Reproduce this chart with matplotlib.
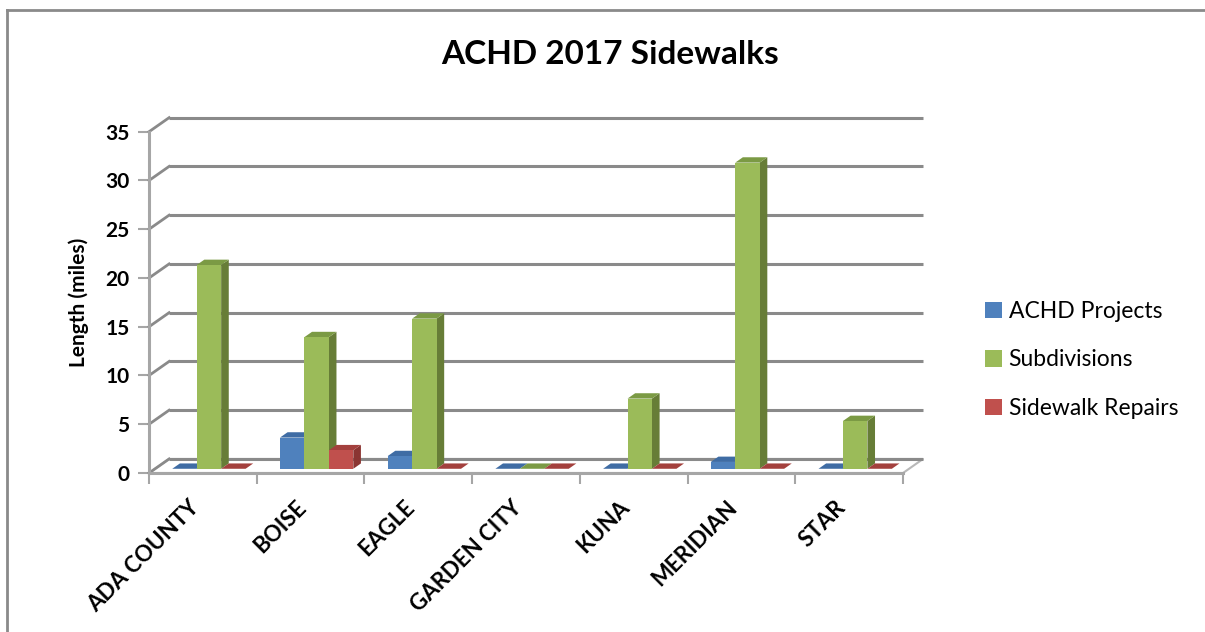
import matplotlib.pyplot as plt
from matplotlib.patches import Polygon, Patch
from matplotlib.lines import Line2D

# data (miles)
categories = ["ADA COUNTY", "BOISE", "EAGLE", "GARDEN CITY", "KUNA", "MERIDIAN", "STAR"]
series_names = ["ACHD Projects", "Subdivisions", "Sidewalk Repairs"]
achd_projects = [0, 3.2, 1.3, 0, 0, 0.7, 0]
subdivisions = [20.9, 13.5, 15.4, 0, 7.2, 31.4, 4.9]
sidewalk_repairs = [0, 1.9, 0, 0, 0, 0, 0]
y_ticks = [0, 5, 10, 15, 20, 25, 30, 35]

series = [achd_projects, subdivisions, sidewalk_repairs]
front_col = ["#4F81BD", "#9BBB59", "#C0504D"]
side_col = ["#3B6497", "#677D37", "#8B3532"]
top_col = ["#3F6CA4", "#7B9A44", "#A3403D"]

plt.rcParams["font.family"] = ["Lato", "DejaVu Sans"]

# fake 3d: depth pushes things right/up by (DX, DY) in data units
DX = 0.186
DY = 1.44
F0, F1 = 0.30, 0.68  # bar depth range (fraction of floor depth)
W = 0.227           # bar width in category units
n = len(categories)
ymax = y_ticks[-1]

fig = plt.figure(figsize=(12.05, 6.32), dpi=100)
ax = fig.add_axes([0.1237, 0.2516, 0.6257, 0.540])
ax.set_xlim(0, n)
ax.set_ylim(0, ymax)
for s in ax.spines.values():
    s.set_visible(False)

grid_c = "#8a8a8a"
axis_c = "#a6a6a6"

# floor
floor = Polygon([(0, 0), (n, 0), (n + DX, DY), (DX, DY)], closed=True,
                facecolor="white", edgecolor="#b8b8b8", lw=1.5, clip_on=False, zorder=1)
ax.add_patch(floor)

# back wall gridlines + left wall diagonals
for v in y_ticks:
    ax.plot([DX, n + DX], [v + DY, v + DY], color=grid_c, lw=2.2, clip_on=False, zorder=2,
            solid_capstyle="butt")
    ax.plot([0, DX], [v, v + DY], color=grid_c, lw=2.0, clip_on=False, zorder=2)

# front axis lines
ax.plot([0, 0], [0, ymax], color=axis_c, lw=2.2, clip_on=False, zorder=2)
ax.plot([0, n], [0, 0], color=axis_c, lw=2.2, clip_on=False, zorder=2)

# bars, drawn left to right so later front faces hide earlier side faces
z = 3
for i in range(n):
    for j in range(3):
        v = series[j][i]
        x0 = i + 0.5 + (j - 1.5) * W
        fx0 = x0 + F0 * DX
        fy0 = F0 * DY
        bx = (F1 - F0) * DX
        by = (F1 - F0) * DY
        # side face
        if v > 0:
            side = Polygon([(fx0 + W, fy0), (fx0 + W + bx, fy0 + by),
                            (fx0 + W + bx, fy0 + by + v), (fx0 + W, fy0 + v)],
                           closed=True, facecolor=side_col[j], edgecolor="none",
                           clip_on=False, zorder=z)
            ax.add_patch(side)
        # top face
        top = Polygon([(fx0, fy0 + v), (fx0 + W, fy0 + v), (fx0 + W + bx, fy0 + by + v),
                       (fx0 + bx, fy0 + by + v)], closed=True, facecolor=top_col[j],
                      edgecolor="none", clip_on=False, zorder=z)
        ax.add_patch(top)
        # front face
        ax.bar(fx0, v, width=W, bottom=fy0, align="edge", color=front_col[j],
               edgecolor="none", clip_on=False, zorder=z)
        z += 1

# ticks
ax.set_yticks(y_ticks)
ax.set_yticklabels([str(t) for t in y_ticks], fontsize=15, fontweight="bold")
ax.set_xticks(range(n + 1))
ax.set_xticklabels([])
ax.tick_params(axis="y", length=8, width=1.5, color=axis_c, pad=6)
ax.tick_params(axis="x", length=8, width=1.5, color=axis_c)

for i, name in enumerate(categories):
    ax.text(i + 0.5, -2.4, name, rotation=45, ha="right", va="top",
            fontsize=16, fontweight="bold", clip_on=False)

ax.set_ylabel("Length (miles)", fontsize=15, fontweight="bold", labelpad=12)

fig.text(610 / 1205, 1 - 55 / 632, "ACHD 2017 Sidewalks", ha="center", va="center",
         fontsize=24, fontweight="bold")

handles = [Patch(facecolor=c, edgecolor="none") for c in front_col]
fig.legend(handles, series_names, loc="center left", bbox_to_anchor=(964 / 1205, 1 - 360 / 632),
           frameon=False, fontsize=16.5, handlelength=0.75, handleheight=0.75,
           handletextpad=0.3, labelspacing=1.2)

# chart border (top and left only visible)
fig.add_artist(Line2D([7 / 1205, 1], [1 - 9.5 / 632, 1 - 9.5 / 632], color="#8a8a8a", lw=2))
fig.add_artist(Line2D([7 / 1205, 7 / 1205], [0, 1 - 9.5 / 632], color="#8a8a8a", lw=2))

fig.savefig("out.png", dpi=100)
